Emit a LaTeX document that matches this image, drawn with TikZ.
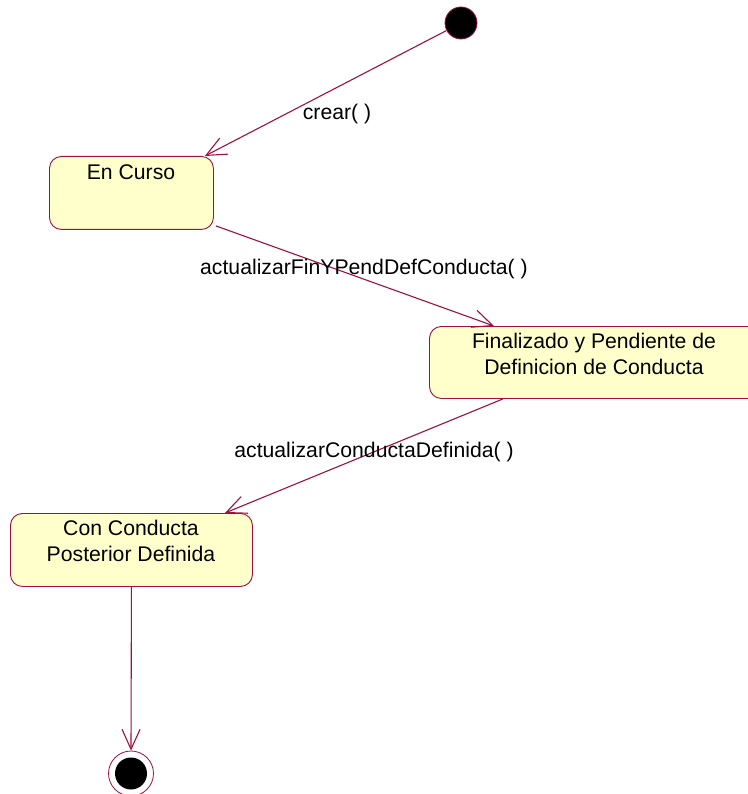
\documentclass[tikz,border=0pt]{standalone}
\usepackage{fontspec}
\setmainfont{Liberation Sans}
\usetikzlibrary{arrows.meta}
\definecolor{umlline}{RGB}{160,16,60}
\definecolor{umlfill}{RGB}{255,255,204}
\begin{document}
\begin{tikzpicture}[x=1pt,y=-1pt,
  statebox/.style={draw=umlline, fill=umlfill, line width=0.9pt, rounded corners=12pt, anchor=north west, inner sep=0pt},
  lbl/.style={font=\fontsize{21.2}{26.5}\selectfont, inner sep=0pt, align=center},
  conn/.style={draw=umlline, line width=1.1pt, -{Straight Barb[length=20pt,width=18pt]}},
  startdot/.style={circle, fill=black, draw=umlline, line width=0.8pt, minimum size=32pt, inner sep=0pt},
  endring/.style={circle, draw=umlline, fill=white, line width=0.8pt, minimum size=45pt, inner sep=0pt},
  enddot/.style={circle, fill=black, minimum size=32pt, inner sep=0pt}
]
\useasboundingbox (0,0) rectangle (747,794);
\node[startdot] (s) at (461,23) {};
\node[statebox, minimum width=164pt, minimum height=73pt] (ec) at (49,156) {};
\node[lbl] (ect) at (131,172) {En Curso};
\node[statebox, minimum width=333pt, minimum height=72pt] (fin) at (429,326) {};
\node[lbl] (fint) at (594,354) {Finalizado y Pendiente de\\Definicion de Conducta};
\node[statebox, minimum width=242pt, minimum height=73pt] (cc) at (10,513) {};
\node[lbl] (cct) at (131,541) {Con Conducta\\Posterior Definida};
\node[endring] (e) at (131,773.5) {};
\node[enddot] (ed) at (e.center) {};

\coordinate (ectip) at ([xshift=-9pt]ec.north east);
\coordinate (ecout) at ([shift={(2pt,4pt)}]ec.south east);
\coordinate (fintip) at ([xshift=65pt]fin.north west);
\coordinate (finout) at ([xshift=74pt]fin.south west);
\coordinate (cctip) at ([xshift=-28pt]cc.north east);

\draw[conn] (s) -- (ectip);
\node[lbl] (l1) at (337,114) {crear( )};
\draw[conn] (ecout) -- (fintip);
\node[lbl] (l2) at (364,269) {actualizarFinYPendDefConducta( )};
\draw[conn] (finout) -- (cctip);
\node[lbl] (l3) at (374,452) {actualizarConductaDefinida( )};
\draw[conn] (cc.south) -- (e.north);
\end{tikzpicture}
\end{document}
